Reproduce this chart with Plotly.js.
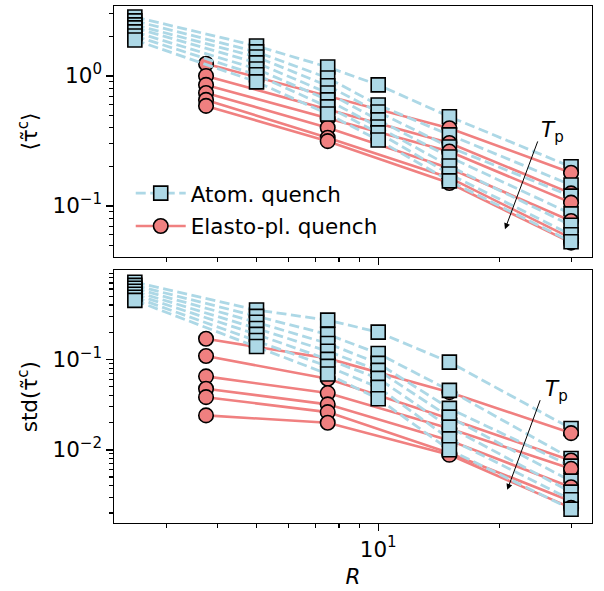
<!DOCTYPE html>
<html>
<head>
<meta charset="utf-8">
<script src="https://cdn.plot.ly/plotly-3.0.1.min.js"></script>
<style>html,body{margin:0;padding:0;background:#fff;}#chart{width:604px;height:591px;}</style>
</head>
<body>
<div id="chart"></div>
<script>
// ---- data ----
const R_atom = [2.5, 5, 7.5, 10, 15, 30];
const R_elasto = [3.75, 7.5, 15, 30];

const atomMean = [
  [2.84, 1.70, 1.17, 0.853, 0.486, 0.200],
  [2.65, 1.53, 0.965, 0.598, 0.352, 0.145],
  [2.47, 1.40, 0.84, 0.528, 0.284, 0.119],
  [2.34, 1.26, 0.74, 0.459, 0.238, 0.087],
  [2.18, 1.13, 0.654, 0.405, 0.203, 0.071],
  [2.03, 1.02, 0.578, 0.365, 0.176, 0.060],
  [1.89, 0.90, 0.51, 0.322, 0.156, 0.053]
];
const elastoMean = [
  [1.24, 0.70, 0.396, 0.180],
  [1.00, 0.55, 0.305, 0.125],
  [0.853, 0.47, 0.262, 0.106],
  [0.74, 0.40, 0.195, 0.0767],
  [0.654, 0.335, 0.165, 0.0565],
  [0.588, 0.315, 0.150, 0.0522]
];
const atomStd = [
  [0.713, 0.352, 0.272, 0.200, 0.0933, 0.0172],
  [0.659, 0.299, 0.189, 0.116, 0.0454, 0.0080],
  [0.611, 0.257, 0.150, 0.0903, 0.0287, 0.0066],
  [0.566, 0.220, 0.123, 0.0756, 0.0230, 0.0045],
  [0.525, 0.189, 0.100, 0.0616, 0.0178, 0.0034],
  [0.486, 0.162, 0.0836, 0.049, 0.0132, 0.0028],
  [0.450, 0.139, 0.0688, 0.0367, 0.0100, 0.0022]
];
const elastoStd = [
  [0.169, 0.1026, 0.0434, 0.0153],
  [0.109, 0.0611, 0.022, 0.00762],
  [0.0649, 0.0424, 0.0172, 0.00616],
  [0.0474, 0.0318, 0.0127, 0.00385],
  [0.0382, 0.0261, 0.0092, 0.0027],
  [0.024, 0.0199, 0.0088, 0.00228]
];

const legendAtom = "Atom. quench";
const legendElasto = "Elasto-pl. quench";

const xTickVals = [10];
const xTickText = ["10<sup>1</sup>"];
const xMinor = [3, 4, 5, 6, 7, 8, 9, 20, 30];
const yTopTickVals = [0.1, 1];
const yTopTickText = ["10<sup>\u22121</sup>", "10<sup>0</sup>"];
const yTopMinor = [0.05, 0.06, 0.07, 0.08, 0.09, 0.2, 0.3, 0.4, 0.5, 0.6, 0.7, 0.8, 0.9, 2, 3];
const yBotTickVals = [0.01, 0.1];
const yBotTickText = ["10<sup>\u22122</sup>", "10<sup>\u22121</sup>"];
const yBotMinor = [0.002, 0.003, 0.004, 0.005, 0.006, 0.007, 0.008, 0.009, 0.02, 0.03, 0.04, 0.05, 0.06, 0.07, 0.08, 0.09, 0.2, 0.3, 0.4, 0.5, 0.6, 0.7, 0.8, 0.9];

// ---- styles ----
const BLUE = "#ADD8E6";
const RED = "#F08080";
const FONT = "DejaVu Sans, sans-serif";
const FS = 21.5;

function atomTrace(y, xa, ya, show) {
  return {
    x: R_atom, y: y, xaxis: xa, yaxis: ya, type: "scatter", mode: "lines+markers",
    name: legendAtom, legendgroup: "atom", showlegend: show, legend: "legend",
    line: {color: BLUE, width: 2.8, dash: "10px,4.5px"},
    marker: {symbol: "square", size: 14, color: BLUE, line: {color: "#000", width: 1.6}}
  };
}
function elastoTrace(y, xa, ya, show) {
  return {
    x: R_elasto, y: y, xaxis: xa, yaxis: ya, type: "scatter", mode: "lines+markers",
    name: legendElasto, legendgroup: "elasto", showlegend: show, legend: "legend2",
    line: {color: RED, width: 2.6},
    marker: {symbol: "circle", size: 14.5, color: RED, line: {color: "#000", width: 1.6}}
  };
}

const traces = [];
for (let i = 0; i < atomMean.length; i++) {
  traces.push(atomTrace(atomMean[i], "x", "y", i === 0));
  if (i < elastoMean.length) traces.push(elastoTrace(elastoMean[i], "x", "y", i === 0));
}
for (let i = 0; i < atomStd.length; i++) {
  traces.push(atomTrace(atomStd[i], "x2", "y2", false));
  if (i < elastoStd.length) traces.push(elastoTrace(elastoStd[i], "x2", "y2", false));
}

const xr = [Math.log10(2.22), Math.log10(33.8)];
function xAxis(anchor, labels) {
  return {
    type: "log", range: xr, anchor: anchor,
    showline: true, linecolor: "#000", linewidth: 1.4, mirror: true,
    ticks: "outside", ticklen: 6.3, tickwidth: 1.4, tickcolor: "#000",
    tickmode: "array", tickvals: xTickVals, ticktext: xTickText,
    showticklabels: labels, showgrid: false, zeroline: false,
    tickfont: {family: FONT, size: FS, color: "#000"},
    minor: {tickmode: "array", tickvals: xMinor, ticks: "outside", ticklen: 3.6, tickwidth: 1.1, tickcolor: "#000", showgrid: false}
  };
}
function yAxis(anchor, domain, range, tv, tt, minor, title) {
  return {
    type: "log", range: range, domain: domain, anchor: anchor,
    showline: true, linecolor: "#000", linewidth: 1.4, mirror: true,
    ticks: "outside", ticklen: 6.3, tickwidth: 1.4, tickcolor: "#000",
    tickmode: "array", tickvals: tv, ticktext: tt,
    showgrid: false, zeroline: false,
    tickfont: {family: FONT, size: FS, color: "#000"},
    minor: {tickmode: "array", tickvals: minor, ticks: "outside", ticklen: 3.6, tickwidth: 1.1, tickcolor: "#000", showgrid: false},
    title: {text: title, font: {family: FONT, size: FS, color: "#000"}, standoff: 9}
  };
}

const legendBase = {
  xanchor: "left", yanchor: "middle", itemwidth: 50,
  bgcolor: "rgba(255,255,255,0)", borderwidth: 0,
  font: {family: FONT, size: FS, color: "#000"}
};

const layout = {
  width: 604, height: 591,
  margin: {l: 114, r: 12, t: 6, b: 68},
  paper_bgcolor: "#fff", plot_bgcolor: "#fff",
  font: {family: FONT, size: FS, color: "#000"},
  showlegend: true,
  legend: Object.assign({x: 0.035, y: 0.638}, legendBase),
  legend2: Object.assign({x: 0.035, y: 0.5745}, legendBase),
  xaxis: xAxis("y", false),
  xaxis2: Object.assign(xAxis("y2", true), {title: {text: "<i>R</i>", font: {family: FONT, size: FS, color: "#000"}, standoff: 8}}),
  yaxis: yAxis("x", [0.5145, 1], [Math.log10(0.0405), Math.log10(3.45)], yTopTickVals, yTopTickText, yTopMinor, "\u27E8\u03C4\u0303<sup>c</sup>\u27E9"),
  yaxis2: yAxis("x2", [0, 0.4888], [Math.log10(0.00155), Math.log10(0.967)], yBotTickVals, yBotTickText, yBotMinor, "std(\u03C4\u0303<sup>c</sup>)"),
  annotations: [
    {xref: "x", yref: "y", axref: "x", ayref: "y", x: 1.3136, y: -1.179, ax: 1.396, ay: -0.492,
     text: "", showarrow: true, arrowhead: 2, arrowsize: 1.2, arrowwidth: 1, arrowcolor: "#000"},
    {xref: "x", yref: "y", x: 1.432, y: -0.428, text: "<i>T</i><sub>p</sub>", showarrow: false,
     font: {family: FONT, size: FS, color: "#000"}},
    {xref: "x2", yref: "y2", axref: "x2", ayref: "y2", x: 1.3193, y: -2.443, ax: 1.402, ay: -1.435,
     text: "", showarrow: true, arrowhead: 2, arrowsize: 1.2, arrowwidth: 1, arrowcolor: "#000"},
    {xref: "x2", yref: "y2", x: 1.44, y: -1.343, text: "<i>T</i><sub>p</sub>", showarrow: false,
     font: {family: FONT, size: FS, color: "#000"}}
  ]
};

Plotly.newPlot("chart", traces, layout, {displayModeBar: false, staticPlot: true});
</script>
</body>
</html>
